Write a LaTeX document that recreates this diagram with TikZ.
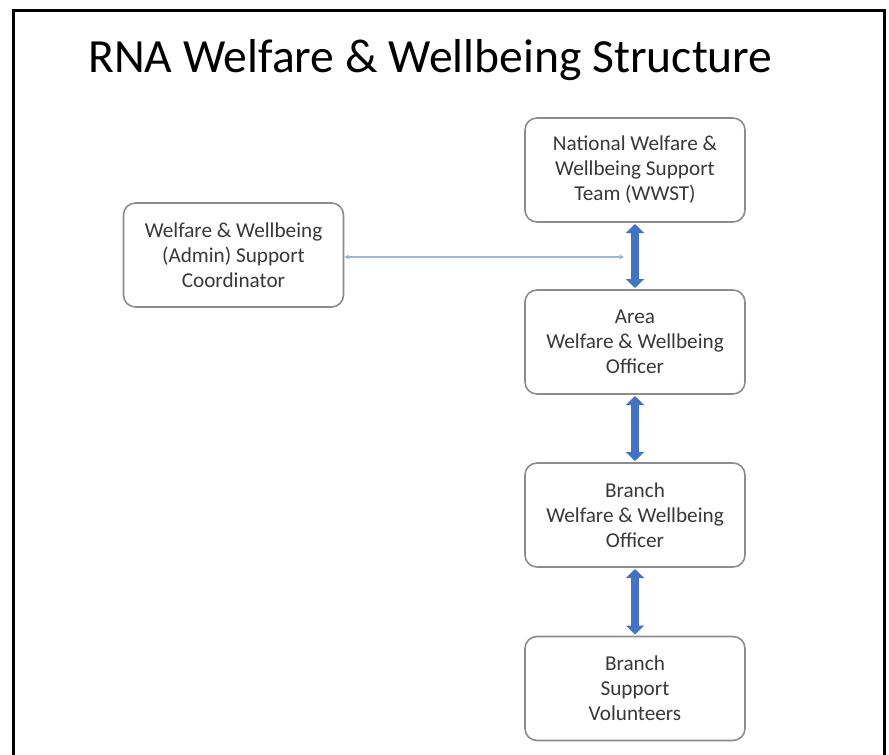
\documentclass[tikz,border=0pt]{standalone}
\usepackage{fontspec}
\setmainfont{Carlito}
\usepackage{tikz}
\usetikzlibrary{arrows.meta}
\definecolor{wwblue}{HTML}{4472C4}
\definecolor{wwthin}{HTML}{9DB5DC}
\definecolor{wwgrey}{HTML}{8C8C8C}
\tikzset{
	wwbox/.style={draw=wwgrey, line width=0.8pt, rounded corners=6pt, minimum width=110pt, minimum height=52pt, align=center, font=\fontsize{10.6pt}{12.5pt}\selectfont, text=black!78, inner sep=0pt},
	wwlink/.style={wwblue, line width=4.3pt, {Triangle[width=9pt,length=4.5pt]}-{Triangle[width=9pt,length=4.5pt]}, shorten <=0.6pt, shorten >=0.6pt}
}

\begin{document}
\begin{tikzpicture}[x=0.5pt, y=-0.5pt]
			%%%%% START %%%%%
			
			\useasboundingbox (0, 0) rectangle (889, 755);
			\draw[line width=1.5pt] (13.5, 760) -- (13.5, 10.5) -- (884.5, 10.5) -- (884.5, 760);
			
			\node[font=\fontsize{23.8pt}{28pt}\selectfont, anchor=west, inner sep=0pt] (title) at (88, 60) {RNA Welfare \& Wellbeing Structure};
			
			\node[wwbox] (wwst) at (635, 170) {National Welfare \&\\Wellbeing Support\\Team (WWST)};
			\node[wwbox] (admin) at (233.5, 255) {Welfare \& Wellbeing\\(Admin) Support\\Coordinator};
			\node[wwbox] (area) at (635, 342) {Area\\Welfare \& Wellbeing\\Officer};
			\node[wwbox] (branch) at (635, 515) {Branch\\Welfare \& Wellbeing\\Officer};
			\node[wwbox] (volunteers) at (635, 688.5) {Branch\\Support\\Volunteers};
			
			\draw[wwlink] (wwst) -- (area);
			\draw[wwlink] (area) -- (branch);
			\draw[wwlink] (branch) -- (volunteers);
			
			\coordinate (hub) at (624, 257);
			\draw[wwthin, line width=0.6pt, {Stealth[length=2.5pt,width=2.5pt]}-{Stealth[length=2.5pt,width=2.5pt]}] (admin.east |- hub) -- (hub);
			
			%%%%% END %%%%%
		\end{tikzpicture}
\end{document}
